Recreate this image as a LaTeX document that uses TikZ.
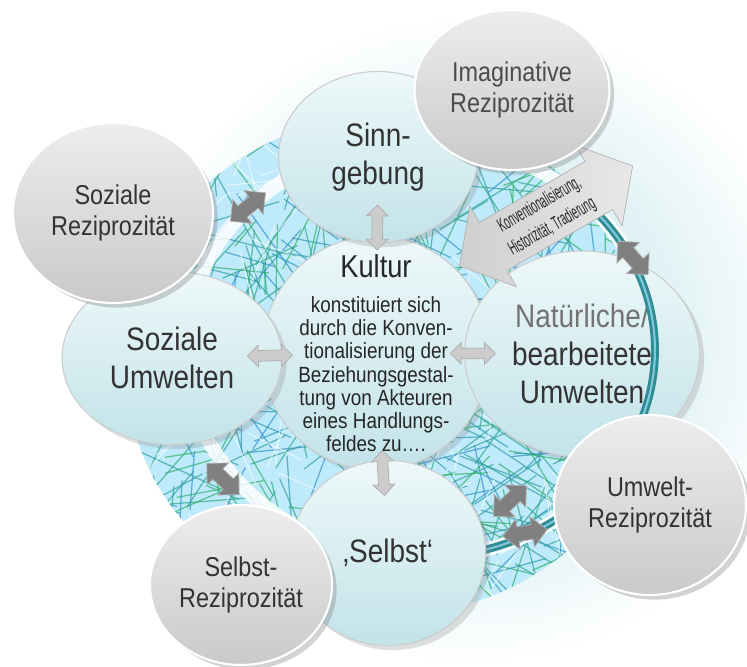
\documentclass[tikz,border=0pt]{standalone}
\usepackage{fontspec}
\setmainfont{Liberation Sans}[FakeStretch=0.86]
\newfontfamily\squeezedfont{Liberation Sans}[FakeStretch=0.5]
\usetikzlibrary{arrows.meta,calc,positioning,shapes.geometric,shapes.arrows,shadows}
\definecolor{discTop}{HTML}{EEF8F9}
\definecolor{discBot}{HTML}{C2E3E9}
\definecolor{ringTeal}{HTML}{2E8C93}
\definecolor{haze}{HTML}{D8EEF1}
\definecolor{strandGreen}{HTML}{2FB45A}
\definecolor{strandBlue}{HTML}{2F8FD0}
\pgfdeclareradialshading{halo}{\pgfpoint{0bp}{0bp}}{color(0bp)=(haze); color(12bp)=(haze); color(25bp)=(white); color(50bp)=(white)}

\begin{document}
\begin{tikzpicture}[x=0.02cm,y=-0.02cm]
    \tikzstyle{disc}=[ellipse,draw=gray!40,line width=0.6pt,top color=discTop,bottom color=discBot,drop shadow={opacity=0.25},text=black!80,font=\fontsize{18.5}{21.5}\selectfont,align=center,inner sep=0pt]
    \tikzstyle{recip}=[ellipse,draw=white,line width=1.2pt,top color=gray!14,bottom color=gray!42,drop shadow={opacity=0.35},text=black!80,font=\fontsize{15.5}{18}\selectfont,align=center,inner sep=0pt]
    \tikzstyle{kulturtext}=[align=center,text=black!85,font=\fontsize{12.5}{13.2}\selectfont,inner sep=0pt]
    \tikzstyle{linkarrow}=[double arrow,draw=gray!65,fill=gray!40,minimum height=0.9cm,minimum width=0.42cm,double arrow head extend=0.11cm,inner xsep=0pt,inner ysep=0.1cm]
    \tikzstyle{ringarrow}=[double arrow,draw=black!30,fill=black!50,minimum height=0.9cm,minimum width=0.6cm,double arrow head extend=0.16cm,inner xsep=0pt,inner ysep=0.14cm]
    \tikzstyle{bigarrow}=[double arrow,draw=gray!60,left color=gray!38,right color=gray!18,minimum height=4cm,minimum width=1.86cm,double arrow head extend=0.37cm,double arrow tip angle=100,inner xsep=1pt,inner ysep=3pt,align=center,font=\squeezedfont\fontsize{11}{14.5}\selectfont,text=black!85]
    \useasboundingbox (0,0) rectangle (747,666);
    \shade[shading=halo] (470,340) ellipse [x radius=6.8cm, y radius=6.5cm];
    \begin{scope}
      \clip (390,365) ellipse [x radius=5.3cm, y radius=5cm];
      \fill[cyan!25!white] (390,365) ellipse [x radius=5.3cm, y radius=5cm];
      \pgfmathsetseed{42}
      \foreach \i in {1,...,700}{
        \pgfmathsetmacro\sx{390+265*rand}
        \pgfmathsetmacro\sy{365+250*rand}
        \pgfmathsetmacro\ang{rnd*180}
        \pgfmathsetmacro\len{30+rnd*90}
        \pgfmathtruncatemacro\mix{rnd*100}
        \draw[strandGreen!\mix!strandBlue,line width=0.7pt,opacity=0.7] (\sx,\sy) -- ++(\ang:\len);
      }
      \foreach \i in {1,...,160}{
        \pgfmathsetmacro\sx{390+265*rand}
        \pgfmathsetmacro\sy{365+250*rand}
        \pgfmathsetmacro\ang{rnd*180}
        \draw[white,line width=0.6pt,opacity=0.6] (\sx,\sy) -- ++(\ang:60);
      }
    \end{scope}
    \coordinate (ringC) at (420,350);
    \draw[white,line width=0.28cm,opacity=0.85] (ringC) ellipse [x radius=4.7cm, y radius=4.16cm];
    \node[disc,minimum width=4.56cm,minimum height=4.68cm] (Kultur) at (376,353) {};
    \node[disc,minimum width=4.4cm,minimum height=3.46cm] (SozU) at (172,358) {Soziale\\Umwelten};
    \node[disc,minimum width=4.7cm,minimum height=4.12cm] (NatU) at (582,354) {\textcolor{black!55}{Natürliche/}\\bearbeitete\\Umwelten};
    \draw[ringTeal,line width=4.5pt] ($(ringC)+(50:4.7cm and 4.16cm)$) arc[start angle=50,end angle=-82,x radius=4.7cm,y radius=4.16cm];
    \draw[cyan!35!white,line width=1.2pt,opacity=0.7] ($(ringC)+(50:4.7cm and 4.16cm)$) arc[start angle=50,end angle=-82,x radius=4.7cm,y radius=4.16cm];
    \node[disc,minimum width=3.9cm,minimum height=3.7cm] (Selbst) at (388,553) {‚Selbst‘};
    \node[disc,minimum width=3.98cm,minimum height=3.42cm] (Sinn) at (378,157) {Sinn-\\gebung};
    \node[kulturtext] (KulturText) at (Kultur) {{\fontsize{18}{18}\selectfont Kultur}\\[7pt]konstituiert sich\\durch die Konven-\\tionalisierung der\\Beziehungsgestal-\\tung von Akteuren\\eines Handlungs-\\feldes zu….};
    \path (Kultur.center) -- node[linkarrow,sloped,pos=0.64] (kSinn) {} (Sinn.center);
    \path (Kultur.center) -- node[linkarrow,sloped,pos=0.52] (kSozU) {} (SozU.center);
    \path (Kultur.center) -- node[linkarrow,sloped,pos=0.47] (kNatU) {} (NatU.center);
    \path (Kultur.center) -- node[linkarrow,sloped,pos=0.6] (kSelbst) {} (Selbst.center);
    \node[bigarrow,rotate=30] (Konv) at (546,216) {Konventionalisierung,\\Historizität, Tradierung};
    \node[recip,minimum width=4cm,minimum height=3.6cm] (SozR) at (113,213) {Soziale\\Reziprozität};
    \node[recip,minimum width=3.9cm,minimum height=3.2cm,text=black!70] (ImagR) at (512,90) {Imaginative\\Reziprozität};
    \node[recip,minimum width=3.84cm,minimum height=3.6cm] (UmwR) at (650,505) {Umwelt-\\Reziprozität};
    \node[recip,minimum width=3.64cm,minimum height=3.2cm] (SelbstR) at (241,585) {Selbst-\\Reziprozität};
    \node[ringarrow,rotate=39] (rSozR) at (248,207) {};
    \node[ringarrow,rotate=-44] (rSelbstR) at (223,479) {};
    \node[ringarrow,rotate=43] (rUmwA) at (510,501) {};
    \node[ringarrow,rotate=9] (rUmwB) at (525,533) {};
    \node[ringarrow,rotate=-48] (rImagR) at (633,258) {};
  \end{tikzpicture}
\end{document}
